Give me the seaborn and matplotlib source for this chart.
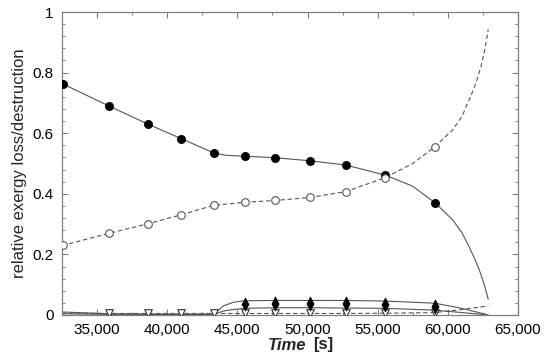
import matplotlib
matplotlib.use("Agg")
import matplotlib.pyplot as plt
import seaborn as sns
import numpy as np
import pandas as pd
from matplotlib.ticker import MultipleLocator, FuncFormatter

sns.set_theme(style="white")
plt.rcParams['font.family'] = ['Liberation Sans', 'DejaVu Sans']

# ---------------- data ----------------
# marker positions (time in s)
t_mark = [32600, 35880, 38620, 41000, 43310, 45520, 47710, 50160, 52710, 55520, 59070]
loss_mark = [0.762, 0.689, 0.630, 0.582, 0.535, 0.524, 0.519, 0.509, 0.495, 0.462, 0.371]
destr_mark = [0.231, 0.270, 0.301, 0.331, 0.362, 0.372, 0.378, 0.388, 0.407, 0.453, 0.555]

# curve points (markers plus extra points)
t_curve = [32500, 35880, 38620, 41000, 43310, 44200, 45520, 47710, 50160, 52710,
           55520, 57500, 59070, 60340, 61000, 61520, 62000, 62240, 62600, 62880]
loss_curve = [0.764, 0.689, 0.630, 0.582, 0.535, 0.527, 0.524, 0.519, 0.509, 0.495,
              0.462, 0.425, 0.371, 0.314, 0.272, 0.225, 0.176, 0.149, 0.100, 0.052]
t_curve2 = [32500, 35880, 38620, 41000, 43310, 45520, 47710, 50160, 52710,
            55520, 57500, 59070, 60340, 61000, 61520, 62000, 62360, 62650, 62880]
destr_curve = [0.229, 0.270, 0.301, 0.331, 0.362, 0.372, 0.378, 0.388, 0.407,
               0.453, 0.500, 0.555, 0.611, 0.655, 0.710, 0.765, 0.820, 0.880, 0.943]

# small components
t_small = [32500, 35880, 38620, 41000, 43310, 44000, 44700, 45520, 47710, 50160,
           52710, 55520, 59070, 61000, 62880]
up_curve = [0.010, 0.004, 0.003, 0.003, 0.003, 0.030, 0.042, 0.047, 0.048, 0.048,
            0.048, 0.046, 0.039, 0.022, 0.000]
down_curve = [0.004, 0.002, 0.002, 0.002, 0.002, 0.013, 0.018, 0.022, 0.024, 0.024,
              0.023, 0.022, 0.016, 0.008, 0.000]
t_dash3 = [32500, 35880, 38620, 41000, 43310, 45520, 47710, 50160, 52710, 55520,
           59070, 61000, 62880]
open_tri_curve = [0.006, 0.005, 0.005, 0.005, 0.005, 0.005, 0.005, 0.005, 0.005,
                  0.006, 0.008, 0.018, 0.030]

t_up_mark = [45520, 47710, 50160, 52710, 55520, 59070]
up_mark = [0.047, 0.048, 0.048, 0.048, 0.046, 0.039]
down_mark = [0.026, 0.027, 0.027, 0.026, 0.024, 0.018]
t_open_mark = [35880, 38620, 41000, 43310, 45520, 47710, 50160, 52710, 55520, 59070]
open_tri_mark = [0.008, 0.008, 0.008, 0.008, 0.006, 0.006, 0.006, 0.006, 0.008, 0.008]

x_ticks = [35000, 40000, 45000, 50000, 55000, 60000, 65000]
y_ticks = [0, 0.2, 0.4, 0.6, 0.8, 1.0]
y_labels = ["0", "0.2", "0.4", "0.6", "0.8", "1"]

# ---------------- figure ----------------
fig = plt.figure(figsize=(5.5, 3.56), dpi=100)
ax = fig.add_axes([62 / 550, 41 / 356, (518 - 62) / 550, (315 - 12) / 356])

lc = "#555555"
lw = 0.8
dash = (4, 2.5)

sns.lineplot(x=t_curve, y=loss_curve, ax=ax, color=lc, lw=lw, sort=False, estimator=None)
sns.lineplot(x=t_curve2, y=destr_curve, ax=ax, color=lc, lw=lw, sort=False,
             estimator=None, linestyle=(0, dash))
sns.lineplot(x=t_small, y=up_curve, ax=ax, color=lc, lw=lw, sort=False, estimator=None)
sns.lineplot(x=t_small, y=down_curve, ax=ax, color=lc, lw=lw, sort=False, estimator=None)
sns.lineplot(x=t_dash3, y=open_tri_curve, ax=ax, color=lc, lw=lw, sort=False,
             estimator=None, linestyle=(0, dash))

ms = 34
sns.scatterplot(x=t_mark, y=loss_mark, ax=ax, color="black", marker="o", s=ms,
                edgecolor="black", linewidth=0.6, zorder=5)
sns.scatterplot(x=t_mark, y=destr_mark, ax=ax, marker="o", s=ms - 4,
                facecolor="white", edgecolor="#555555", linewidth=0.8, zorder=5)
sns.scatterplot(x=t_open_mark, y=open_tri_mark, ax=ax, marker="v", s=30,
                facecolor="white", edgecolor="#333333", linewidth=0.8, zorder=5)
sns.scatterplot(x=t_up_mark, y=down_mark, ax=ax, marker="v", s=26,
                color="black", edgecolor="black", linewidth=0.5, zorder=6)
sns.scatterplot(x=t_up_mark, y=up_mark, ax=ax, marker="^", s=26,
                color="black", edgecolor="black", linewidth=0.5, zorder=6)

ax.set_xlim(32500, 65000)
ax.set_ylim(0, 1)
ax.set_xticks(x_ticks)
ax.xaxis.set_major_formatter(FuncFormatter(lambda v, p: f"{int(v):,}"))
ax.xaxis.set_minor_locator(MultipleLocator(2500))
ax.set_yticks(y_ticks)
ax.set_yticklabels(y_labels)
ax.yaxis.set_minor_locator(MultipleLocator(0.04))

for s in ax.spines.values():
    s.set_color("#808080")
    s.set_linewidth(0.9)
    s.set_visible(True)

ax.tick_params(which="both", direction="in", top=True, right=True, bottom=True, left=True,
               color="#808080", labelsize=11, labelcolor="black")
ax.tick_params(which="major", length=4, width=0.8, pad=6)
ax.tick_params(which="minor", length=2.5, width=0.7)
ax.set_xlabel("")
ax.set_ylabel("relative exergy loss/destruction", fontsize=12, labelpad=4)

fig.text(287 / 550, 1 - 345 / 356, "Time", fontsize=12, fontweight="bold",
         fontstyle="italic", ha="center", va="center")
fig.text(323 / 550, 1 - 345 / 356, "[s]", fontsize=12, fontweight="bold",
         ha="center", va="center")

fig.savefig("out.png", dpi=100)
